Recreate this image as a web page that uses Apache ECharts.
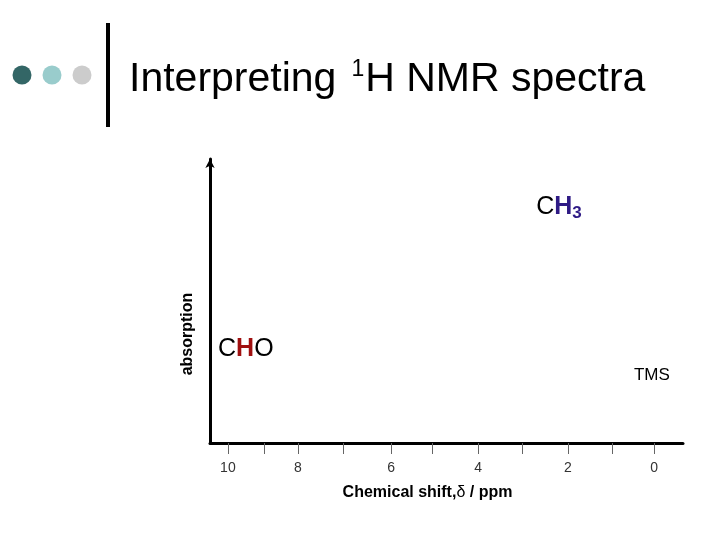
<!DOCTYPE html>
<html>
<head>
<meta charset="utf-8">
<script src="https://cdn.jsdelivr.net/npm/echarts@6/dist/echarts.min.js"></script>
<style>html,body{margin:0;padding:0;background:#fff;}#c{width:720px;height:540px;}</style>
</head>
<body>
<div id="c"></div>
<script>
// Nominal chemical-shift tick labels (ppm) and where each tick sits on the slide's axis (ppm scale)
var tickLabels = ['10', '', '8', '', '6', '', '4', '', '2', '', '0'];
var tickAt = [10, 9.15, 8.36, 7.30, 6.17, 5.21, 4.13, 3.10, 2.02, 0.99, 0];
// Peak annotations: name, shift (ppm), relative height
var peakNames = ['CH3', 'CHO', 'TMS'];
var peakShift = [2.23, 9.58, 0.05];
var peakHeight = [0.83, 0.33, 0.24];

var labelAt = tickAt.filter(function (v, i) { return tickLabels[i] !== ''; });

var FONT = '"Liberation Sans", Arial, sans-serif';
var richMap = {
  CH3: '{n|C}{hp|H}{sp|3}',
  CHO: '{n|C}{hr|H}{n|O}',
  TMS: '{t|TMS}'
};
var rich = {
  n: { fontSize: 25, color: '#000', fontFamily: FONT, lineHeight: 30 },
  hp: { fontSize: 25, color: '#2e1a85', fontWeight: 'bold', fontFamily: FONT, lineHeight: 30 },
  hr: { fontSize: 25, color: '#a01010', fontWeight: 'bold', fontFamily: FONT, lineHeight: 30 },
  sp: { fontSize: 17, color: '#2e1a85', fontWeight: 'bold', fontFamily: FONT, lineHeight: 12, verticalAlign: 'bottom' },
  t: { fontSize: 17, color: '#000', fontFamily: FONT, lineHeight: 20 }
};

var chart = echarts.init(document.getElementById('c'), null, { renderer: 'canvas' });
chart.setOption({
  animation: false,
  backgroundColor: '#fff',
  title: {
    left: 129, top: 58, padding: 0,
    text: '{t|Interpreting}{s|1}{t|H NMR spectra}',
    textStyle: {
      fontWeight: 'normal',
      rich: {
        t: { fontSize: 41, color: '#000', fontWeight: 'normal', fontFamily: FONT, lineHeight: 44 },
        s: { fontSize: 23, color: '#000', fontWeight: 'normal', fontFamily: FONT, lineHeight: 30, verticalAlign: 'top', padding: [0, 1, 0, 15] }
      }
    }
  },
  graphic: [
    { type: 'circle', shape: { cx: 22, cy: 75, r: 9.5 }, style: { fill: '#336666' } },
    { type: 'circle', shape: { cx: 52, cy: 75, r: 9.5 }, style: { fill: '#99cccc' } },
    { type: 'circle', shape: { cx: 82, cy: 75, r: 9.5 }, style: { fill: '#cccccc' } },
    { type: 'rect', shape: { x: 106, y: 23, width: 4, height: 104 }, style: { fill: '#000' } },
    { type: 'text', x: 188, y: 334, rotation: Math.PI / 2,
      style: { text: 'absorption', font: 'bold 16px ' + FONT, fill: '#000', align: 'center', verticalAlign: 'middle' } }
  ],
  grid: { left: 210, right: 37, top: 159, bottom: 97 },
  xAxis: {
    type: 'value',
    inverse: true,
    min: -0.68, max: 10.42,
    name: '{b|Chemical shift,}{d|δ}{b| / ppm}',
    nameLocation: 'middle',
    nameGap: 42,
    nameTextStyle: {
      padding: [0, 38, 0, 0],
      rich: {
        b: { fontSize: 16, fontWeight: 'bold', color: '#000', fontFamily: FONT },
        d: { fontSize: 16, color: '#000', fontFamily: FONT }
      }
    },
    axisLine: { show: true, onZero: false, lineStyle: { color: '#000', width: 3 } },
    axisTick: { show: true, inside: false, length: 11, customValues: tickAt, lineStyle: { color: '#666', width: 1 } },
    axisLabel: {
      show: true, customValues: labelAt, margin: 18,
      fontSize: 14, color: '#333', fontFamily: FONT,
      formatter: function (v) {
        var best = 0, d = 1e9;
        for (var i = 0; i < tickAt.length; i++) {
          var dd = Math.abs(tickAt[i] - v);
          if (dd < d) { d = dd; best = i; }
        }
        return tickLabels[best];
      }
    },
    splitLine: { show: false }
  },
  yAxis: {
    type: 'value', min: 0, max: 1,
    axisLine: { show: true, onZero: false, symbol: ['none', 'arrow'], symbolSize: [7, 9], lineStyle: { color: '#000', width: 3 } },
    axisTick: { show: false },
    axisLabel: { show: false },
    splitLine: { show: false }
  },
  series: [{
    type: 'scatter',
    symbolSize: 0,
    silent: true,
    itemStyle: { opacity: 1 },
    data: peakNames.map(function (n, i) {
      return {
        name: n,
        value: [peakShift[i], peakHeight[i]],
        label: { show: true, position: 'inside', formatter: richMap[n], rich: rich }
      };
    })
  }]
});
</script>
</body>
</html>
